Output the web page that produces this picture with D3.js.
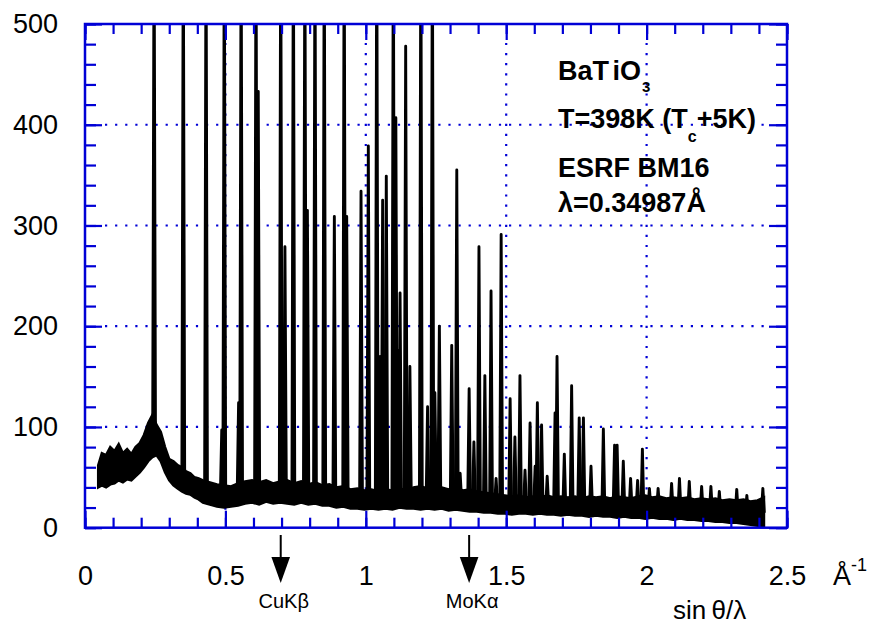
<!DOCTYPE html>
<html><head><meta charset="utf-8">
<script src="https://cdn.jsdelivr.net/npm/d3@7"></script>
<style>
html,body{margin:0;padding:0;background:#fff;}
svg{display:block;font-family:"Liberation Sans",Arial,Helvetica,sans-serif;}
</style></head><body>
<svg id="chart" width="872" height="627"></svg>
<script>
// ---- Data (x = sinθ/λ in Å^-1, y = counts) ----
// Bragg peak positions and heights (600 = off scale, above the 500 frame)
const peakPos = [0.246,0.350,0.431,0.487,0.496,0.547,0.556,0.609,0.617,0.697,0.712,0.742,
  0.783,0.792,0.819,0.852,0.888,0.923,0.932,0.983,1.009,1.039,1.051,1.060,1.073,1.098,1.107,
  1.116,1.122,1.142,1.157,1.196,1.220,1.237,1.246,1.262,1.306,1.324,1.336,1.368,1.385,1.403,
  1.424,1.446,1.464,1.482,1.514,1.531,1.549,1.567,1.585,1.603,1.611,1.626,1.646,1.674,1.681,
  1.707,1.733,1.760,1.775,1.802,1.846,1.886,1.895,1.917,1.943,1.968,1.985,2.010,2.041,2.089,
  2.117,2.152,2.196,2.229,2.259,2.321,2.357,2.414];
const peakHeight = [600,600,600,97,600,124,600,600,433,600,279,600,
  600,315,600,600,309,600,309,334,379,600,170,325,349,600,407,
  176,233,478,160,600,120,600,134,200,181,355,54,138,85,279,
  151,235,49,291,128,90,151,57,104,61,124,102,51,114,170,
  73,141,109,109,61,98,82,82,66,49,47,78,39,39,44,
  49,46,41,41,36,38,32,39];

// Noisy background band: lower / upper envelope
const bgX = [0.047,0.06,0.075,0.09,0.105,0.12,0.135,0.15,0.165,0.18,
  0.195,0.21,0.225,0.24,0.255,0.27,0.285,0.30,0.315,0.33,
  0.345,0.36,0.375,0.39,0.405,0.42,
  0.445,0.47,0.495,0.52,0.545,0.57,0.595,0.62,0.645,0.67,
  0.695,0.72,0.745,0.77,0.795,0.82,0.845,0.87,0.895,0.92,
  0.945,0.97,0.995,1.02,1.045,1.07,1.095,1.12,1.145,1.17,
  1.195,1.22,1.245,1.27,1.295,1.32,1.345,1.37,1.395,1.42,
  1.445,1.47,1.495,1.52,1.545,1.57,1.595,1.62,1.645,1.67,
  1.695,1.72,1.745,1.77,1.795,1.82,1.845,1.87,1.895,1.92,
  1.945,1.97,1.995,2.02,2.045,2.07,2.095,2.12,2.145,2.17,
  2.195,2.22,2.245,2.27,2.295,2.32,2.345,2.37,2.395,2.418];
const bgHigh = [62,74,72,80,76,83,74,78,73,80,
  84,92,104,112,102,95,80,68,66,62,
  60,56,54,50,49,47,
  45,43,42,41,44,46,47,45,47,44,
  46,47,44,46,43,45,42,43,40,41,
  38,39,37,38,36,38,37,39,37,40,
  41,39,41,40,38,40,37,38,36,35,
  34,33,32,31,32,30,31,30,32,30,
  31,30,31,29,31,30,31,29,31,30,
  29,31,32,30,31,29,30,29,30,28,
  29,28,29,27,28,27,28,26,27,30];
const bgLow = [40,42,40,43,44,47,45,48,47,51,
  55,60,66,70,72,66,55,47,42,39,
  36,34,33,30,28,25,
  23,21,20,21,22,24,25,23,26,24,
  25,24,23,25,23,24,22,22,20,21,
  19,19,18,19,18,19,18,20,19,19,
  18,19,18,19,17,18,17,16,16,15,
  15,14,14,13,14,14,13,14,13,13,
  12,13,12,12,11,12,11,11,10,11,
  10,10,9,10,9,9,8,9,8,8,
  7,7,6,6,5,5,4,3,2,2];

// Axes
const xMajor = [0,0.5,1,1.5,2,2.5];
const xTickLabels = ["0","0.5","1","1.5","2","2.5"];
const yMajor = [0,100,200,300,400,500];
const yTickLabels = ["0","100","200","300","400","500"];
const xGrid = [0.5,1,1.5,2];
const yGrid = [100,200,300,400];
const xMinor = d3.range(0,2.501,0.1);
const yMinor = d3.range(0,501,20);

// Annotations
const arrowPos = [0.697,1.368];
const arrowLabels = ["CuKβ","MoKα"];

// ---- Drawing ----
const svg = d3.select("#chart");
const L=85, R=787, T=24, B=527.7;
const x = d3.scaleLinear().domain([0,2.5]).range([L,R]);
const y = d3.scaleLinear().domain([0,500]).range([B,T]);
const blue = "#0000d6";

svg.append("defs").append("clipPath").attr("id","plotclip")
  .append("rect").attr("x",L).attr("y",T).attr("width",R-L).attr("height",B-T);

// grid
const grid = svg.append("g").attr("stroke",blue).attr("stroke-width",2.2).attr("stroke-dasharray","2.2,7.9");
grid.selectAll("line.gx").data(xGrid).join("line").attr("class","gx")
  .attr("x1",d=>x(d)).attr("x2",d=>x(d)).attr("y1",B-18).attr("y2",T+17);
grid.selectAll("line.gy").data(yGrid).join("line").attr("class","gy")
  .attr("y1",d=>y(d)).attr("y2",d=>y(d)).attr("x1",L+20).attr("x2",R-18);

// data
const plot = svg.append("g").attr("clip-path","url(#plotclip)");
const bgPts = bgX.map((d,i)=>({x:d,lo:bgLow[i],hi:bgHigh[i]}));
plot.append("path").datum(bgPts)
  .attr("d", d3.area().x(d=>x(d.x)).y0(d=>y(d.lo)).y1(d=>y(d.hi)))
  .attr("fill","#000").attr("stroke","#000").attr("stroke-width",2.5).attr("stroke-linejoin","miter");

const baseAt = d3.scaleLinear().domain(bgX).range(bgX.map((d,i)=>(bgLow[i]+bgHigh[i])/2)).clamp(true);
const hw = 0.005;
plot.selectAll("path.peak").data(peakPos.map((p,i)=>({p,h:peakHeight[i]}))).join("path")
  .attr("class","peak")
  .attr("d", d => {
    const b = baseAt(d.p);
    return `M${x(d.p-hw)},${y(b)}L${x(d.p)},${y(d.h)}L${x(d.p+hw)},${y(b)}Z`;
  })
  .attr("fill","#000").attr("stroke","#000").attr("stroke-width",2.9).attr("stroke-linejoin","round");

// axes
function styl(g){
  g.select(".domain").remove();
  g.selectAll("line").attr("stroke",blue).attr("stroke-width",2.2);
  g.selectAll("text").attr("fill","#000").attr("font-size",27)
    .attr("font-family",'"Liberation Sans",Arial,Helvetica,sans-serif');
}
svg.append("g").attr("transform",`translate(0,${B})`)
  .call(d3.axisBottom(x).tickValues(xMinor).tickSize(-10).tickFormat("")).call(styl);
svg.append("g").attr("transform",`translate(0,${B})`)
  .call(d3.axisBottom(x).tickValues(xMajor).tickSize(-17).tickPadding(38)
    .tickFormat(d=>xTickLabels[xMajor.indexOf(d)])).call(styl);
svg.append("g").attr("transform",`translate(0,${T})`)
  .call(d3.axisTop(x).tickValues(xMinor).tickSize(-10).tickFormat("")).call(styl);
svg.append("g").attr("transform",`translate(0,${T})`)
  .call(d3.axisTop(x).tickValues(xMajor).tickSize(-16).tickFormat("")).call(styl);
svg.append("g").attr("transform",`translate(${L},0)`)
  .call(d3.axisLeft(y).tickValues(yMinor).tickSize(-11).tickFormat("")).call(styl);
svg.append("g").attr("transform",`translate(${L},0)`)
  .call(d3.axisLeft(y).tickValues(yMajor).tickSize(-17).tickPadding(27)
    .tickFormat(d=>yTickLabels[yMajor.indexOf(d)])).call(styl);
svg.append("g").attr("transform",`translate(${R},0)`)
  .call(d3.axisRight(y).tickValues(yMinor).tickSize(-11).tickFormat("")).call(styl);
svg.append("g").attr("transform",`translate(${R},0)`)
  .call(d3.axisRight(y).tickValues(yMajor).tickSize(-18).tickFormat("")).call(styl);

svg.append("rect").attr("x",L).attr("y",T).attr("width",R-L).attr("height",B-T)
  .attr("fill","none").attr("stroke",blue).attr("stroke-width",2.5);

// unit label
const u = svg.append("text").attr("x",833).attr("y",585).attr("font-size",27).attr("fill","#000");
u.append("tspan").text("Å");
u.append("tspan").attr("font-size",18).attr("dy",-14).text("-1");

svg.append("text").attr("x",673).attr("y",619).attr("font-size",26).attr("fill","#000")
  .text("sin\u2009θ/λ");

// arrows
const arr = svg.append("g");
arrowPos.forEach((p,i)=>{
  const cx = x(p);
  arr.append("line").attr("x1",cx).attr("x2",cx).attr("y1",535).attr("y2",560)
    .attr("stroke","#000").attr("stroke-width",2);
  arr.append("path").attr("d",`M${cx-9.3},557L${cx+9.3},557L${cx},583Z`).attr("fill","#000");
  arr.append("text").attr("x",cx+3).attr("y",608).attr("text-anchor","middle")
    .attr("font-size",20).attr("fill","#000").text(arrowLabels[i]);
});

// annotation block
const ann = svg.append("g").attr("font-weight","bold").attr("font-size",27).attr("fill","#000");
const t1 = ann.append("text").attr("x",558).attr("y",80);
t1.append("tspan").text("BaT");
t1.append("tspan").attr("dx",4).text("iO");
t1.append("tspan").attr("font-size",15).attr("dx",1).attr("dy",12).text("3");
const t2 = ann.append("text").attr("x",558).attr("y",128);
t2.append("tspan").text("T=398K (T");
t2.append("tspan").attr("font-size",16).attr("dy",14).text("c");
t2.append("tspan").attr("dy",-14).text("+5K)");
ann.append("text").attr("x",558).attr("y",177).text("ESRF BM16");
ann.append("text").attr("x",558).attr("y",212).text("λ=0.34987Å");
</script>
</body></html>
